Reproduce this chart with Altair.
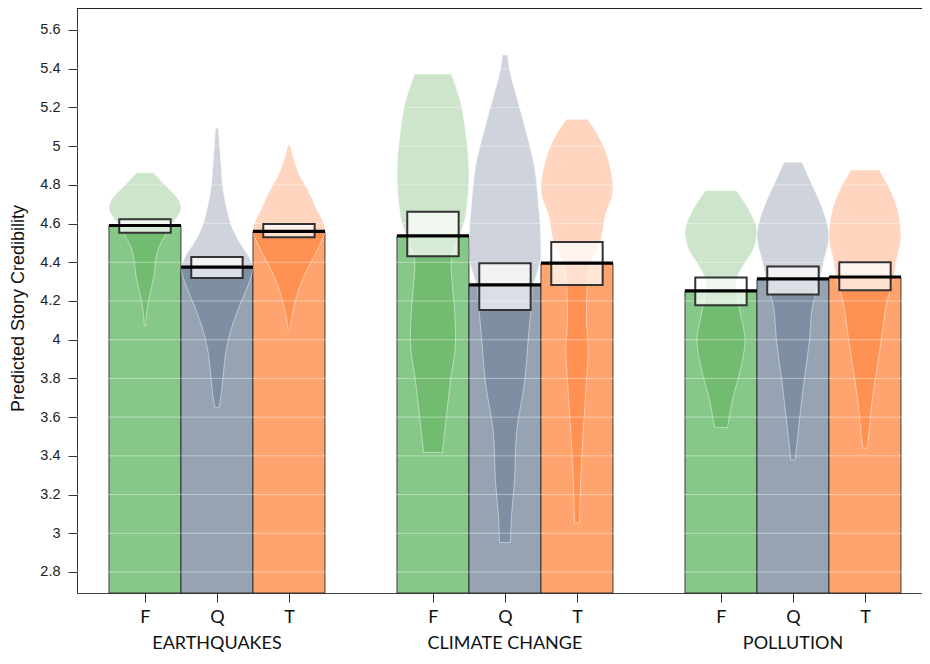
import altair as alt
import pandas as pd

# ---------------- data ----------------
groups = ["EARTHQUAKES", "CLIMATE CHANGE", "POLLUTION"]
conditions = ["F", "Q", "T"]
group_center = [2, 6, 10]          # x position of the middle (Q) bean in each group

# means (black lines), order: group-major, F/Q/T within group
means = [4.590, 4.375, 4.560,
         4.536, 4.283, 4.396,
         4.252, 4.314, 4.324]
# HDI boxes
hdi_lo = [4.553, 4.319, 4.529,
          4.431, 4.154, 4.283,
          4.178, 4.233, 4.255]
hdi_hi = [4.622, 4.427, 4.598,
          4.661, 4.395, 4.505,
          4.322, 4.378, 4.400]

# violin (bean) outlines: value levels and half-widths (max half-width 0.5)
eq_f_y = [4.07, 4.15, 4.22, 4.33, 4.45, 4.50, 4.55, 4.59, 4.63, 4.68, 4.72, 4.79, 4.863]
eq_f_w = [0.01, 0.025, 0.06, 0.125, 0.17, 0.22, 0.30, 0.35, 0.44, 0.50, 0.47, 0.30, 0.116]
eq_q_y = [3.649, 3.706, 3.81, 3.95, 4.07, 4.19, 4.29, 4.37, 4.43, 4.50, 4.58, 4.67, 4.79, 4.91, 5.015, 5.092]
eq_q_w = [0.03, 0.055, 0.085, 0.13, 0.21, 0.33, 0.44, 0.50, 0.44, 0.32, 0.21, 0.14, 0.08, 0.055, 0.035, 0.02]
eq_t_y = [4.05, 4.15, 4.24, 4.33, 4.41, 4.50, 4.56, 4.59, 4.67, 4.76, 4.84, 4.93, 5.006]
eq_t_w = [0.01, 0.055, 0.12, 0.21, 0.32, 0.44, 0.50, 0.49, 0.39, 0.28, 0.16, 0.07, 0.015]

cc_f_y = [3.417, 3.60, 3.78, 4.00, 4.20, 4.30, 4.40, 4.50, 4.60, 4.72, 4.84, 5.07, 5.24, 5.373]
cc_f_w = [0.13, 0.185, 0.24, 0.315, 0.29, 0.265, 0.25, 0.33, 0.43, 0.48, 0.50, 0.455, 0.375, 0.255]
cc_q_y = [2.952, 3.086, 3.259, 3.517, 3.775, 4.033, 4.15, 4.26, 4.35, 4.43, 4.55, 4.722, 4.894, 5.066, 5.238, 5.393, 5.471]
cc_q_w = [0.075, 0.09, 0.13, 0.16, 0.27, 0.33, 0.36, 0.38, 0.45, 0.50, 0.495, 0.46, 0.41, 0.30, 0.175, 0.065, 0.035]
cc_t_y = [3.052, 3.259, 3.517, 3.775, 3.947, 4.119, 4.33, 4.42, 4.50, 4.636, 4.774, 4.894, 5.015, 5.139]
cc_t_w = [0.035, 0.05, 0.085, 0.13, 0.155, 0.13, 0.15, 0.22, 0.32, 0.39, 0.50, 0.46, 0.35, 0.15]

po_f_y = [3.546, 3.689, 3.861, 3.999, 4.10, 4.19, 4.30, 4.377, 4.464, 4.558, 4.67, 4.77]
po_f_w = [0.09, 0.16, 0.28, 0.335, 0.29, 0.24, 0.21, 0.30, 0.445, 0.50, 0.39, 0.215]
po_q_y = [3.379, 3.551, 3.775, 3.999, 4.171, 4.292, 4.412, 4.533, 4.687, 4.808, 4.917]
po_q_w = [0.03, 0.08, 0.15, 0.23, 0.27, 0.36, 0.43, 0.50, 0.40, 0.255, 0.125]
po_t_y = [3.44, 3.517, 3.689, 3.861, 4.033, 4.205, 4.292, 4.412, 4.533, 4.636, 4.774, 4.877]
po_t_w = [0.03, 0.055, 0.10, 0.17, 0.24, 0.31, 0.38, 0.44, 0.50, 0.475, 0.35, 0.195]

violin_y = [eq_f_y, eq_q_y, eq_t_y, cc_f_y, cc_q_y, cc_t_y, po_f_y, po_q_y, po_t_y]
violin_w = [eq_f_w, eq_q_w, eq_t_w, cc_f_w, cc_q_w, cc_t_w, po_f_w, po_q_w, po_t_w]

y_ticks = [2.8, 3.0, 3.2, 3.4, 3.6, 3.8, 4.0, 4.2, 4.4, 4.6, 4.8, 5.0, 5.2, 5.4, 5.6]

bar_colors = ["#85C887", "#95A3B3", "#FFA46F"]
bean_colors = ["#37972B", "#3B4F73", "#FF5700"]

# ---------------- layout ----------------
YMIN, YMAX = 2.6915, 5.7136
W, H = 845, 585
XMIN = 0.056
XMAX = XMIN + W / 72.0

# ---------------- tables ----------------
bars, beans = [], []
positions = []
for gi, g in enumerate(groups):
    for ci, c in enumerate(conditions):
        k = gi * 3 + ci
        pos = group_center[gi] + (ci - 1)
        positions.append(pos)
        bars.append(dict(group=g, cond=c, pos=pos, x1=pos - 0.5, x2=pos + 0.5,
                         base=YMIN, mean=means[k], h1=pos - 0.357, h2=pos + 0.357,
                         lo=hdi_lo[k], hi=hdi_hi[k], fill=bar_colors[ci]))
        for yy, ww in zip(violin_y[k], violin_w[k]):
            beans.append(dict(id=k, y=yy, xl=pos - ww, xr=pos + ww,
                              fill=bean_colors[ci]))
bars = pd.DataFrame(bars)
beans = pd.DataFrame(beans)
grid = pd.DataFrame({"y": y_ticks})
glabels = pd.DataFrame({"group": groups, "x": group_center})

xscale = alt.Scale(domain=[XMIN, XMAX], nice=False, zero=False)
yscale = alt.Scale(domain=[YMIN, YMAX], nice=False, zero=False)

label_expr = "['','F','Q','T','','F','Q','T','','F','Q','T'][round(datum.value)]"

bar_layer = alt.Chart(bars).mark_rect(stroke="#222222", strokeWidth=1, strokeOpacity=0.85).encode(
    x=alt.X("x1:Q", scale=xscale,
            axis=alt.Axis(values=positions, labelExpr=label_expr, title=None, grid=False,
                          tickSize=9, tickColor="#333333", domainColor="#444444",
                          labelFont="Lato", labelFontSize=18, labelColor="#111111",
                          labelPadding=6)),
    x2="x2:Q",
    y=alt.Y("base:Q", scale=yscale,
            axis=alt.Axis(values=y_ticks, format="~g", title="Predicted Story Credibility",
                          grid=False, tickSize=9, tickColor="#333333", domainColor="#333333",
                          labelFont="Liberation Sans", labelFontSize=14.5, labelColor="#222222",
                          labelPadding=8, titleFont="Liberation Sans", titleFontSize=18,
                          titleFontWeight="normal", titleColor="#111111",
                          titleX=-54, titleY=300, titleBaseline="alphabetic")),
    y2="mean:Q",
    fill=alt.Fill("fill:N", scale=None),
)

bean_layer = alt.Chart(beans).mark_area(
    orient="horizontal", interpolate="monotone", fillOpacity=0.25,
    stroke="white", strokeOpacity=0.45, strokeWidth=1,
).encode(
    y=alt.Y("y:Q", scale=yscale),
    x=alt.X("xl:Q", scale=xscale),
    x2="xr:Q",
    detail="id:N",
    fill=alt.Fill("fill:N", scale=None),
)

grid_layer = alt.Chart(grid).mark_rule(color="white", strokeOpacity=0.4, strokeWidth=1).encode(
    y=alt.Y("y:Q", scale=yscale)
)

hdi_layer = alt.Chart(bars).mark_rect(
    fill="white", fillOpacity=0.72, stroke="#333333", strokeWidth=2
).encode(
    x=alt.X("h1:Q", scale=xscale), x2="h2:Q",
    y=alt.Y("lo:Q", scale=yscale), y2="hi:Q",
)

mean_layer = alt.Chart(bars).mark_rule(color="black", strokeWidth=3.2).encode(
    x=alt.X("x1:Q", scale=xscale), x2="x2:Q",
    y=alt.Y("mean:Q", scale=yscale),
)

top_frame = alt.Chart(grid).mark_rule(color="#222222", strokeWidth=1).encode(
    y=alt.datum(YMAX)
)

group_layer = alt.Chart(glabels).mark_text(
    font="Lato", fontSize=18, color="#111111", align="center", baseline="middle"
).encode(
    x=alt.X("x:Q", scale=xscale),
    y=alt.value(636),
    text="group:N",
)

chart = alt.layer(
    bar_layer, bean_layer, grid_layer, hdi_layer, mean_layer, top_frame, group_layer
).properties(
    width=W, height=H,
    autosize=alt.AutoSizeParams(type="none"),
    padding={"left": 69, "top": 0, "right": 0, "bottom": 63},
    background="white",
).configure_view(stroke=None)

chart.save("out.html", embed_options={"renderer": "svg", "actions": False})
